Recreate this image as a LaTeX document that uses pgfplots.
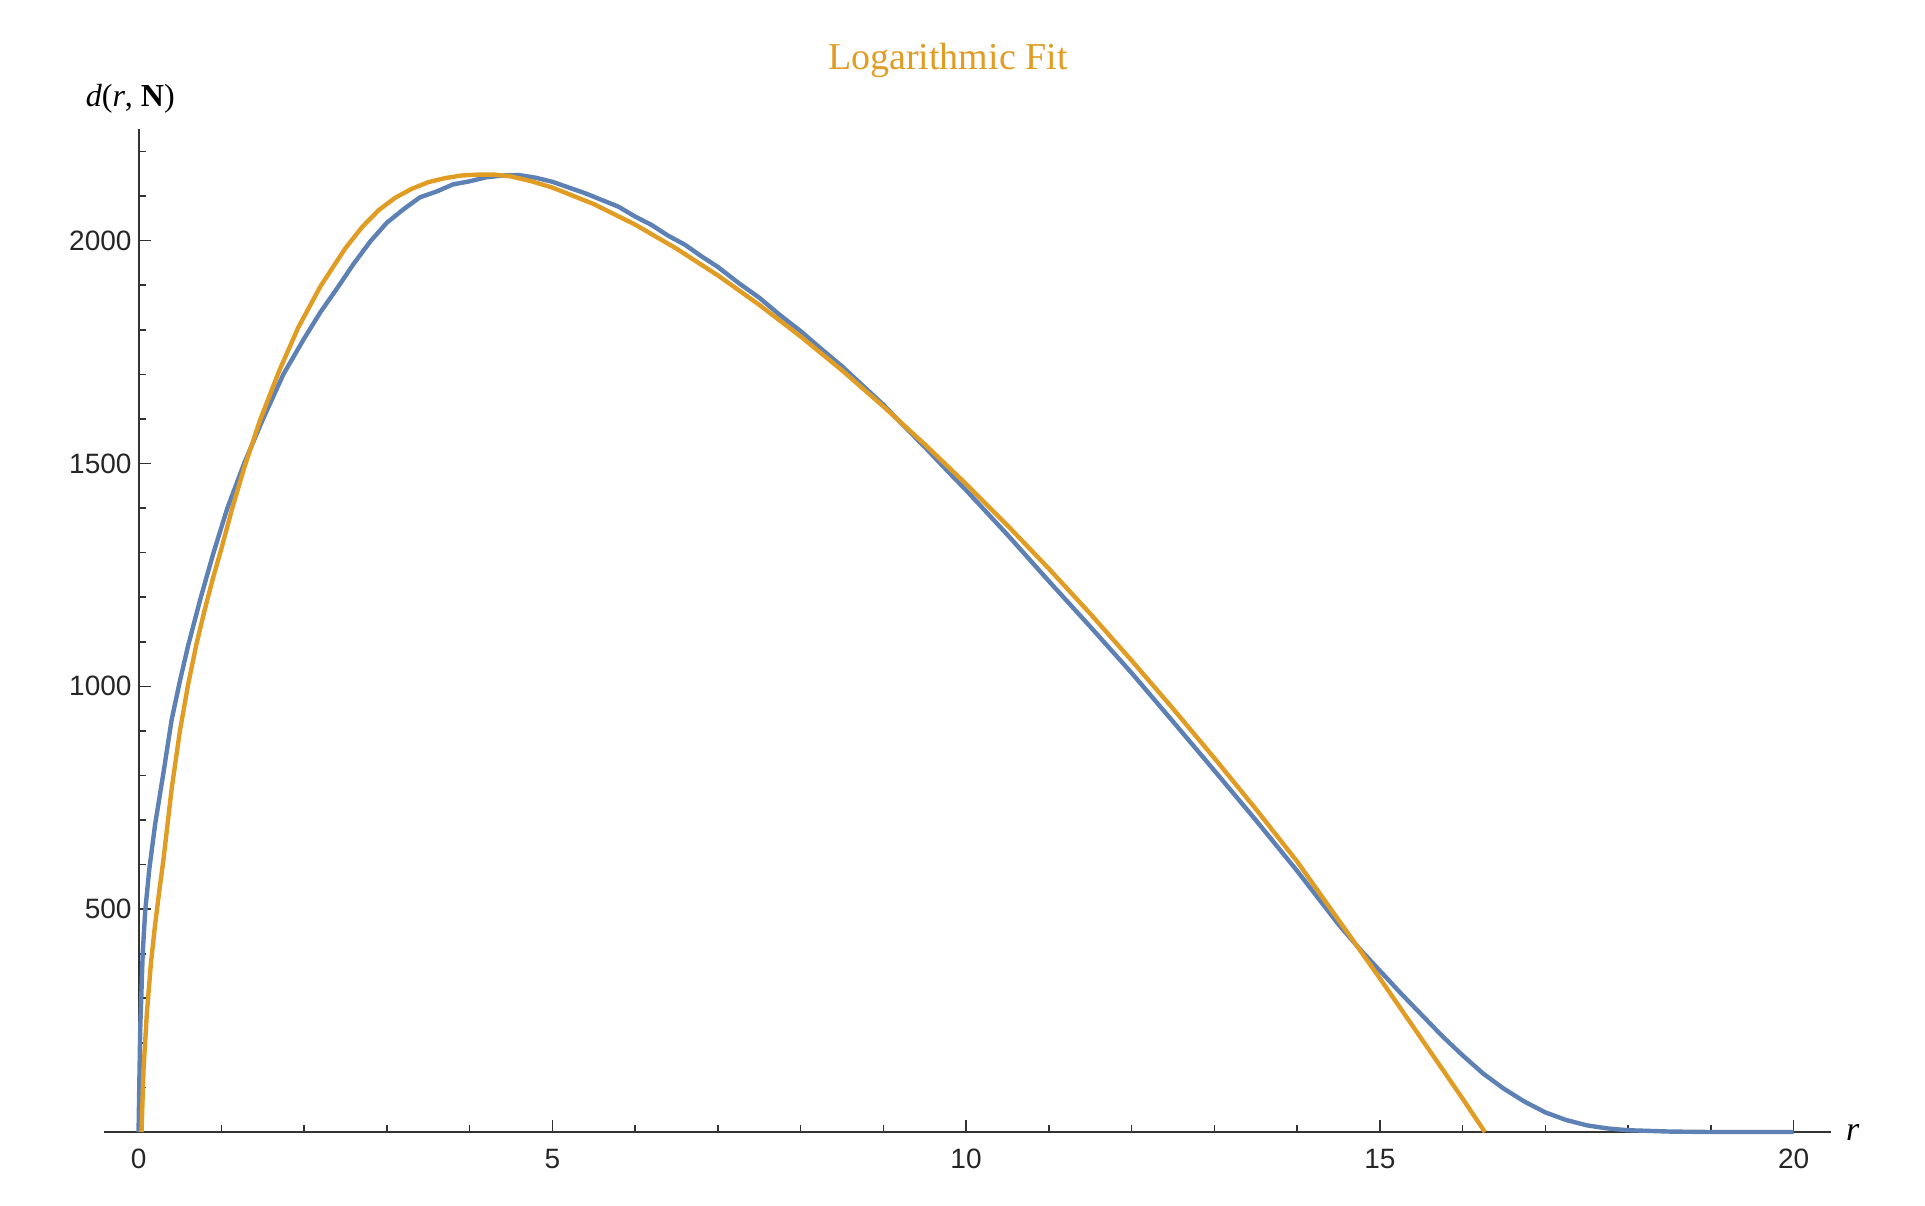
\documentclass[border=0pt]{standalone}
\usepackage{fontspec}
\setmainfont{Liberation Serif}
\newfontfamily\ticksfont{Liberation Sans}
\usepackage{pgfplots}
\pgfplotsset{compat=1.18}
\definecolor{mblue}{rgb}{0.368417,0.506779,0.709798}
\definecolor{morange}{rgb}{0.880722,0.611041,0.142051}

\begin{document}
\begin{tikzpicture}
\useasboundingbox (-51.9pt,-36.5pt) rectangle (910.6pt,566pt);
\begin{axis}[
    x=41.375pt, y=0.22285pt,
    xmin=-0.42, xmax=20.45,
    ymin=0, ymax=2250,
    enlargelimits=false,
    axis lines=middle,
    axis line style={-, line width=1pt, draw=black!80},
    xtick={0,5,10,15,20},
    ytick={500,1000,1500,2000},
    minor xtick={1,2,3,4,6,7,8,9,11,12,13,14,16,17,18,19},
    minor ytick={100,200,300,400,600,700,800,900,1100,1200,1300,1400,1600,1700,1800,1900,2100,2200},
    hide obscured x ticks=false,
    hide obscured y ticks=false,
    tick align=inside,
    major tick length=6pt,
    minor tick length=3.5pt,
    every tick/.style={line width=0.8pt, black!80},
    ticklabel style={font=\ticksfont\fontsize{14}{14}\selectfont, text=black!85},
    xticklabel style={yshift=-5pt},
    /pgf/number format/assume math mode=true,
    /pgf/number format/1000 sep={},
    clip=false,
]

% simulated d(r,N)
\addplot[mblue, line width=2.2pt, line join=round] coordinates {
(0,0) (0.02,230) (0.05,400) (0.08,495) (0.13,590) (0.2,690) (0.3,805)
(0.4,925) (0.5,1012) (0.6,1092) (0.75,1198) (0.9,1296) (1.07,1398)
(1.28,1502) (1.5,1598) (1.75,1700) (2.0,1780) (2.2,1840) (2.4,1893)
(2.6,1948) (2.8,1998) (3.0,2040) (3.2,2070) (3.4,2097) (3.6,2110)
(3.8,2126) (4.0,2133) (4.2,2142) (4.4,2146) (4.6,2147) (4.8,2141)
(5.0,2132) (5.2,2119) (5.4,2106) (5.6,2091) (5.8,2076) (6.0,2054)
(6.2,2035) (6.4,2011) (6.6,1991) (6.8,1965) (7.0,1941) (7.25,1905)
(7.5,1872) (7.75,1833) (8.0,1797) (8.25,1757) (8.5,1718) (8.75,1675)
(9.0,1632) (9.25,1584) (9.5,1537) (9.75,1488) (10.0,1440) (10.5,1340)
(11.0,1236) (11.5,1134) (12.0,1030) (12.5,921) (13.0,811) (13.5,700)
(14.0,586) (14.5,466) (14.75,412) (15.0,362) (15.25,312) (15.5,264)
(15.75,216) (16.0,172) (16.25,131) (16.5,97) (16.75,68) (17.0,44)
(17.25,27) (17.5,15) (17.75,8) (18.0,4) (18.5,1) (19.0,0) (20.0,0)
};

% logarithmic fit
\addplot[morange, line width=2.2pt, line join=round] coordinates {
(0.036,0) (0.06,140) (0.1,265) (0.15,380) (0.2,465) (0.25,540) (0.3,610)
(0.4,770) (0.5,900) (0.6,1005) (0.7,1095) (0.8,1172) (0.9,1243) (1.0,1308)
(1.13,1398) (1.28,1492) (1.47,1598) (1.7,1708) (1.93,1805) (2.2,1898)
(2.5,1983) (2.7,2030) (2.9,2068) (3.1,2096) (3.3,2116) (3.5,2131)
(3.7,2140) (3.9,2146) (4.1,2148) (4.3,2148) (4.5,2144) (4.75,2133)
(5.0,2119) (5.5,2082) (6.0,2036) (6.5,1982) (7.0,1922)
(7.5,1856) (8.0,1785) (8.5,1709) (9.0,1628) (9.5,1543) (10.0,1454)
(10.5,1361) (11.0,1264) (11.5,1163) (12.0,1058) (12.5,950) (13.0,839)
(13.5,725) (14.0,607) (14.5,476) (15.0,345) (15.5,210) (16.0,75) (16.27,0)
};

\node[font=\fontsize{16}{16}\selectfont, text=morange] at (axis cs:9.78,2405) {\fontsize{19}{19}\selectfont Logarithmic Fit};
\node[font=\fontsize{16}{16}\selectfont] at (axis cs:-0.1,2318) {\textit{d}(\textit{r}, \textbf{N})};
\node[font=\fontsize{17}{17}\selectfont, anchor=west] at (axis cs:20.55,0) {\textit{r}};
\end{axis}
\end{tikzpicture}
\end{document}
